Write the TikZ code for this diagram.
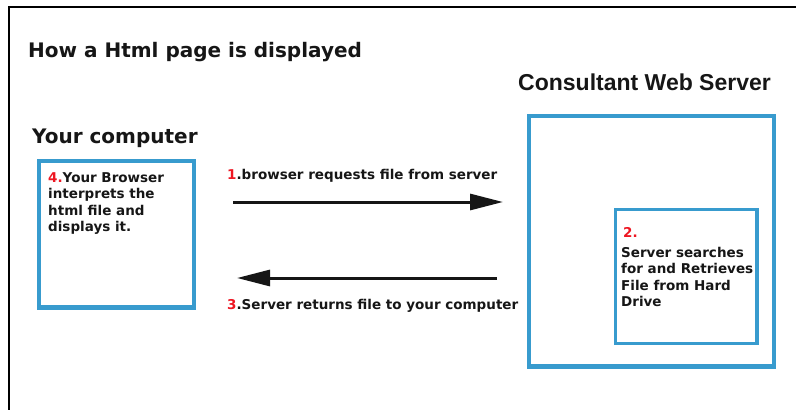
\documentclass[tikz,border=0pt]{standalone}
\usepackage{fontspec}
\setmainfont{DejaVu Sans}
\newfontfamily\arialfont{Liberation Sans}
\usetikzlibrary{arrows.meta}
\definecolor{boxblue}{RGB}{56,155,206}
\definecolor{numred}{RGB}{238,22,34}
\definecolor{ink}{RGB}{22,22,22}
\newcommand{\rn}[1]{\textcolor{numred}{#1}}
\begin{document}
\begin{tikzpicture}[x=1pt,y=-1pt,
  txt/.style={inner sep=0pt, anchor=base west, text=ink},
  title/.style={txt, font=\fontsize{20}{24}\selectfont\bfseries},
  stitle/.style={txt, font=\arialfont\fontsize{23}{27}\selectfont\bfseries},
  body/.style={txt, font=\fontsize{13.5}{16.5}\selectfont\bfseries},
  bluebox/.style={draw=boxblue, line width=4.5pt, inner sep=0pt},
  innerbox/.style={draw=boxblue, line width=3.5pt, inner sep=0pt},
  flow/.style={draw=ink, line width=3pt, -{Triangle[length=33pt,width=16pt]}}
]
\useasboundingbox (0,0) rectangle (796,410);
\fill[white] (0,0) rectangle (796,410);
% frame
\coordinate (fa) at (9,412);
\coordinate (fb) at (9,7);
\coordinate (fc) at (798,7);
\draw[line width=2.5pt, black] (fa) -- (fb) -- (fc);
% titles
\node[title] (title) at (28,57) {How a Html page is displayed};
\node[title] (yc) at (32,143) {Your computer};
\node[stitle] (cws) at (518,90) {Consultant Web Server};
% boxes
\node[bluebox, minimum width=155pt, minimum height=146.5pt] (pc) at (116.5,234.25) {};
\node[bluebox, minimum width=245pt, minimum height=250.5pt] (srv) at (651.5,241.25) {};
\node[innerbox, minimum width=141.7pt, minimum height=134.2pt] (hd) at (686.15,276.6) {};
% box texts
\node[body] (pctext) at (48,182) {\parbox[t]{140pt}{\rn{4.}Your Browser\\interprets the\\html file and\\displays it.}};
\node[body] (hdnum) at (623,237) {\rn{2.}};
\node[body] (hdtext) at (621,257) {\parbox[t]{140pt}{Server searches\\for and Retrieves\\File from Hard\\Drive}};
% arrows
\coordinate (a1s) at (233,202);
\coordinate (a1e) at (503,202);
\coordinate (a3s) at (497,278);
\coordinate (a3e) at (237,278);
\draw[flow] (a1s) -- (a1e);
\draw[flow] (a3s) -- (a3e);
\node[body] (l1) at (227,179) {\rn{1}.browser requests file from server};
\node[body] (l3) at (227,309) {\rn{3}.Server returns file to your computer};
\end{tikzpicture}
\end{document}
